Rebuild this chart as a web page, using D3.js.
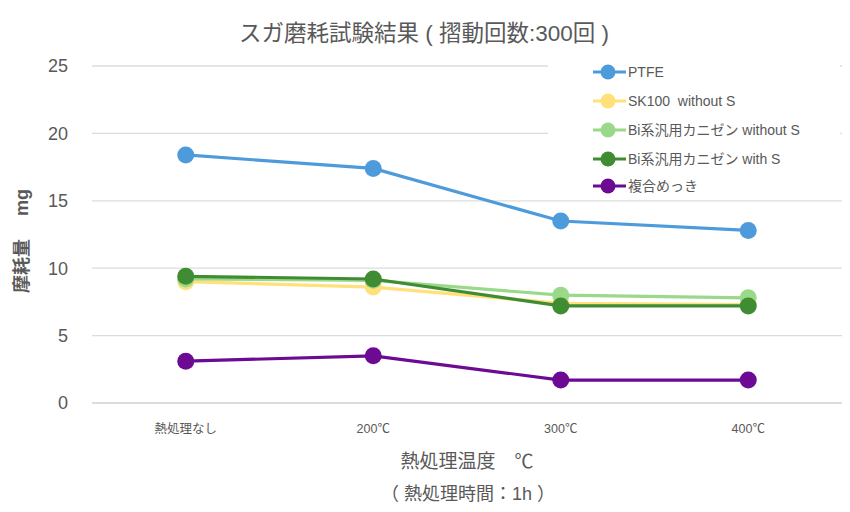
<!DOCTYPE html>
<html><head><meta charset="utf-8">
<script src="https://cdn.jsdelivr.net/npm/d3@7"></script>
<style>body{margin:0;background:#fff}svg{font-family:"Liberation Sans","Noto Sans CJK JP",sans-serif}text{white-space:pre}</style>
</head><body><svg id="c" width="850" height="512"></svg>
<script>
const categories=["熱処理なし","200℃","300℃","400℃"];
const seriesNames=["PTFE","SK100  without S","Bi系汎用カニゼン without S","Bi系汎用カニゼン with S","複合めっき"];
const ptfe=[18.4,17.4,13.5,12.8];
const sk100=[9.0,8.6,7.4,7.3];
const biWithout=[9.2,9.1,8.0,7.8];
const biWith=[9.4,9.2,7.2,7.2];
const fukugo=[3.1,3.5,1.7,1.7];
const yTicks=[0,5,10,15,20,25];
const colors=["#4e9bdc","#ffe07a","#9bd98a","#3f8c33","#6c0a94"];
const seriesVals=[ptfe,sk100,biWithout,biWith,fukugo];

const svg=d3.select("#c");
const x=d3.scaleBand().domain(categories).range([92,842]);
const y=d3.scaleLinear().domain([0,25]).range([403,66]);

svg.append("g").selectAll("line").data(yTicks).join("line")
 .attr("x1",92).attr("x2",842).attr("y1",d=>y(d)).attr("y2",d=>y(d))
 .attr("stroke",d=>d===0?"#d0d0d0":"#dcdcdc").attr("stroke-width",1.3);
svg.append("g").selectAll("text").data(yTicks).join("text")
 .attr("x",68).attr("y",d=>y(d)).attr("dy","0.36em").attr("text-anchor","end")
 .attr("font-size",18).attr("fill","#595959").text(d=>d);
svg.append("g").selectAll("text").data(categories).join("text")
 .attr("x",d=>x(d)+x.bandwidth()/2).attr("y",428).attr("dy","0.36em").attr("text-anchor","middle")
 .attr("font-size",12.5).attr("fill","#595959").text(d=>d);

svg.append("text").attr("x",424).attr("y",33).attr("dy","0.36em").attr("text-anchor","middle")
 .attr("font-size",22.5).attr("fill","#595959").text("スガ磨耗試験結果 ( 摺動回数:300回 )");
svg.append("text").attr("transform","translate(22,241) rotate(-90)").attr("dy","0.36em").attr("text-anchor","middle")
 .attr("font-size",18).attr("font-weight",700).attr("fill","#595959").text("摩耗量　 mg");
svg.append("text").attr("x",467).attr("y",461).attr("dy","0.36em").attr("text-anchor","middle")
 .attr("font-size",19).attr("fill","#595959").text("熱処理温度　℃");
svg.append("text").attr("x",468).attr("y",494).attr("dy","0.36em").attr("text-anchor","middle")
 .attr("font-size",18).attr("fill","#595959").text("（ 熱処理時間：1h ）");

svg.append("rect").attr("x",548).attr("y",58).attr("width",292).attr("height",140).attr("fill","#fff");

const line=d3.line().x((d,i)=>x(categories[i])+x.bandwidth()/2).y(d=>y(d));
seriesVals.forEach((vals,si)=>{
 const g=svg.append("g");
 g.append("path").attr("d",line(vals)).attr("fill","none").attr("stroke",colors[si]).attr("stroke-width",3.2);
 g.selectAll("circle").data(vals).join("circle")
  .attr("cx",(d,i)=>x(categories[i])+x.bandwidth()/2).attr("cy",d=>y(d)).attr("r",8.5).attr("fill",colors[si]);
});

const legY=[72,101,130,159,186];
seriesNames.forEach((n,i)=>{
 const g=svg.append("g").attr("transform",`translate(0,${legY[i]})`);
 g.append("line").attr("x1",593).attr("x2",626).attr("stroke",colors[i]).attr("stroke-width",3.2);
 g.append("circle").attr("cx",608).attr("r",7.5).attr("fill",colors[i]);
 g.append("text").attr("x",628).attr("dy","0.36em").attr("font-size",14).attr("fill","#595959").text(n);
});
</script></body></html>
